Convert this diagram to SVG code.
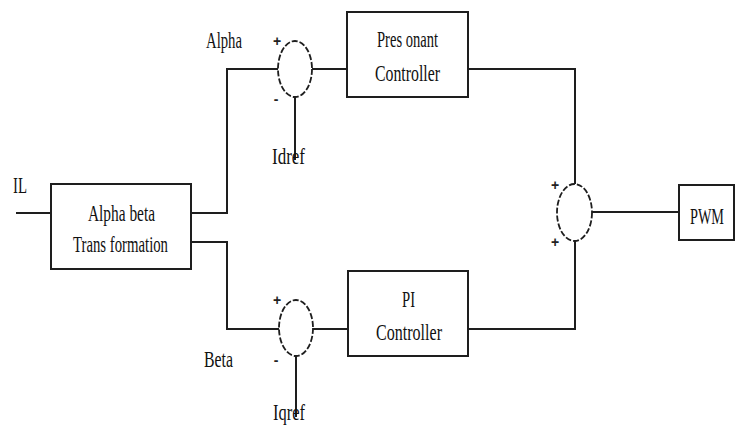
<svg xmlns="http://www.w3.org/2000/svg" width="736" height="426" viewBox="0 0 736 426">
<style>
.box{fill:#fff;stroke:#1e1e1e;stroke-width:2}
.sum{fill:none;stroke:#1e1e1e;stroke-width:1.8;stroke-dasharray:6 2}
.wire{fill:none;stroke:#1e1e1e;stroke-width:2}
.t{font-family:"Liberation Serif","Times New Roman",serif;font-size:24px;fill:#111}
.s{font-family:"Liberation Sans",Arial,sans-serif;font-size:14px;font-weight:bold;fill:#222;text-anchor:middle}
</style>
<rect width="736" height="426" fill="#fff"/>
<g id="connectors">
<path class="wire" d="M16 213H51"/>
<path class="wire" d="M191 213H227V69H278"/>
<path class="wire" d="M312 69H347"/>
<path class="wire" d="M468 69H575V184"/>
<path class="wire" d="M191 242H227V329H279"/>
<path class="wire" d="M313 329H348"/>
<path class="wire" d="M468 329H575V241"/>
<path class="wire" d="M592 212H679"/>
<path class="wire" d="M295 97V160"/>
<path class="wire" d="M296 356V417"/>
</g>
<g id="label-IL"><text class="t" x="13" y="193" textLength="14" lengthAdjust="spacingAndGlyphs">IL</text></g>
<g id="label-alpha"><text class="t" x="206" y="48" textLength="36" lengthAdjust="spacingAndGlyphs">Alpha</text></g>
<g id="label-beta"><text class="t" x="204" y="367" textLength="29" lengthAdjust="spacingAndGlyphs">Beta</text></g>
<g id="label-idref"><text class="t" x="272" y="164" textLength="33" lengthAdjust="spacingAndGlyphs">Idref</text></g>
<g id="label-iqref"><text class="t" x="273" y="420" textLength="32" lengthAdjust="spacingAndGlyphs">Iqref</text></g>
<g id="alphabeta">
<rect class="box" x="51" y="184" width="140" height="85"/>
<text class="t" x="88" y="221" textLength="67" lengthAdjust="spacingAndGlyphs">Alpha beta</text>
<text class="t" x="73" y="252" textLength="95" lengthAdjust="spacingAndGlyphs">Trans formation</text>
</g>
<g id="sum-alpha">
<ellipse class="sum" cx="295" cy="69" rx="17" ry="28"/>
<text class="s" x="277" y="46">+</text>
<text class="s" x="276" y="104">-</text>
</g>
<g id="sum-beta">
<ellipse class="sum" cx="296" cy="328" rx="17" ry="28"/>
<text class="s" x="277" y="305">+</text>
<text class="s" x="276" y="365">-</text>
</g>
<g id="presonant">
<rect class="box" x="347" y="12" width="121" height="85"/>
<text class="t" x="377" y="47" textLength="61" lengthAdjust="spacingAndGlyphs">Pres onant</text>
<text class="t" x="375" y="81" textLength="65" lengthAdjust="spacingAndGlyphs">Controller</text>
</g>
<g id="pi">
<rect class="box" x="348" y="271" width="120" height="85"/>
<text class="t" x="402" y="307" textLength="13" lengthAdjust="spacingAndGlyphs">PI</text>
<text class="t" x="376" y="340" textLength="66" lengthAdjust="spacingAndGlyphs">Controller</text>
</g>
<g id="sum-out">
<ellipse class="sum" cx="574.5" cy="212.5" rx="17.5" ry="28.5"/>
<text class="s" x="555" y="190">+</text>
<text class="s" x="555" y="247">+</text>
</g>
<g id="pwm">
<rect class="box" x="679" y="185" width="55" height="55"/>
<text class="t" x="690" y="224" textLength="34" lengthAdjust="spacingAndGlyphs">PWM</text>
</g>
</svg>
